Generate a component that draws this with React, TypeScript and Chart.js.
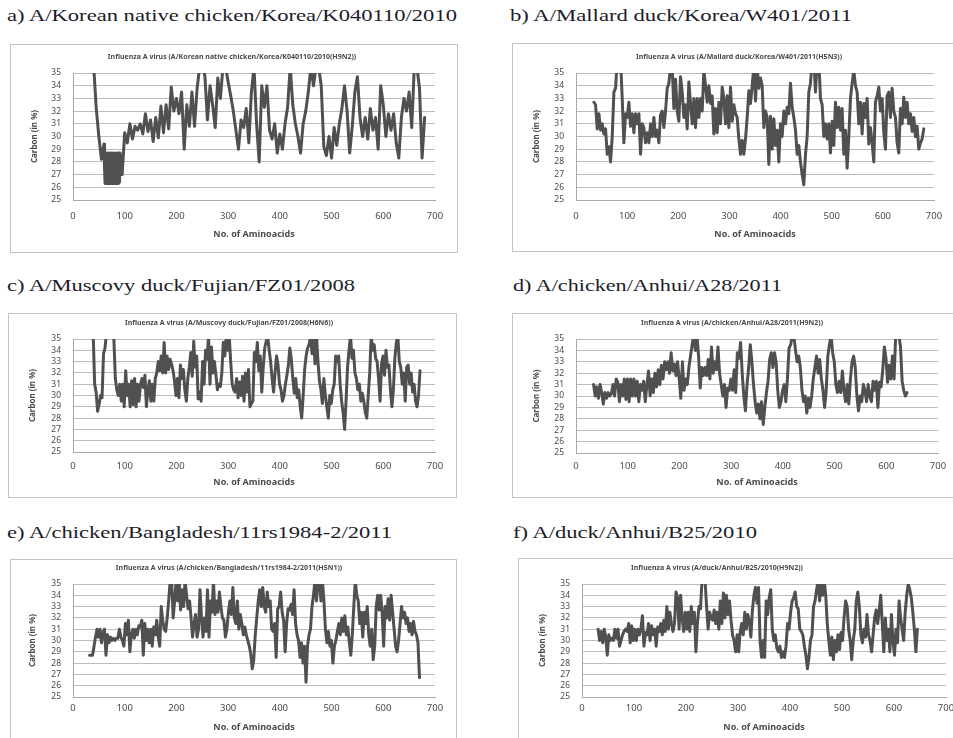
import React, { useEffect, useRef } from "react";
import { Chart, registerables } from "chart.js";
Chart.register(...registerables);

// ---------- tick labels ----------
const xTicks = [0, 100, 200, 300, 400, 500, 600, 700];
const yTicks = [25, 26, 27, 28, 29, 30, 31, 32, 33, 34, 35];
const xAxisTitle = "No. of Aminoacids";
const yAxisTitle = "Carbon (in %)";

// ---------- panel a ----------
const headA = "a) A/Korean native chicken/Korea/K040110/2010";
const titleA = "Influenza A virus (A/Korean native chicken/Korea/K040110/2010(H9N2))";
const rangeA1 = [40, 60];
const valuesA1 = [35.5, 32.2, 30, 28.2, 29.4];
// dense low band (positions 61-91)
const rangeA2 = [61, 91];
const valuesA2 = [
  27.5, 26.3, 28.6, 26.3, 28.7, 26.3, 28.6, 26.3, 28.7, 26.3, 28.6,
  26.3, 28.7, 26.3, 28.6, 26.3, 28.7, 26.3, 28.6, 26.3, 28.7,
  26.3, 28.6, 26.3, 28.7, 26.3, 28.6, 26.3, 28.7, 26.4, 28.7,
];
const rangeA3 = [95, 680];
const valuesA3 = [
  27,
  30.3, 29.5, 31, 29.8, 30.8, 30.5, 31, 30.2, 31.8, 30.4,
  31.3, 29.6, 31.5, 29.9, 32.4, 30.3, 32.5, 30.6, 33.9, 32,
  33, 31.8, 33.5, 29, 32.5, 30.8, 33.5, 30.8, 33.8, 35.5,
  35.5, 34.8, 31.3, 34, 32.5, 30.7, 34.6, 33, 35.5, 35.5,
  34.3, 33.2, 32, 30.5, 29, 31.3, 30.7, 32.2, 29.5, 33.5,
  35.5, 31, 28, 34, 32.3, 34, 30.5, 29.8, 31, 28.7,
  30.2, 29, 31, 32.3, 35.5, 32.5, 31, 30, 28.7, 31,
  32, 33.5, 35.5, 34, 35.5, 35.5, 34, 29.2, 28.5, 30,
  28.3, 30.7, 29.3, 31, 32.2, 34, 32, 28.7, 30.8, 33.5,
  34.7, 31.5, 30, 31.5, 29.8, 32.2, 30.5, 31.5, 29, 34,
  32.5, 30, 31.8, 30.5, 31.8, 29.5, 28.3, 31.5, 33, 32,
  33.5, 30.7, 35.5, 35.5, 33.8, 28.3, 31.5,
];

// ---------- panel b ----------
const headB = "b) A/Mallard duck/Korea/W401/2011";
const titleB = "Influenza A virus (A/Mallard duck/Korea/W401/2011(H5N3))";
const rangeB = [35, 680];
const valuesB = [
  32.7, 32.5, 30.6, 31.8, 30.5, 31, 30.2, 30.6, 28.6, 29.2, 28, 30, 33.5, 33.8,
  36, 36, 36, 33, 29.5, 31.8, 31.5, 32.7, 30.8, 31.8, 30.3, 31.8, 31, 31.8,
  28.6, 31, 30.7, 29.5, 30.3, 29.5, 31, 30, 31.5, 30, 30.5, 29.5, 31.7, 32,
  30.7, 32, 33.8, 34.2, 35.5, 35.5, 32.2, 34.5, 32, 31.2, 34.7, 33.5, 31.5, 32.5,
  30.6, 34.3, 32.6, 31, 33, 30.7, 33, 31.5, 33, 32, 35.2, 34, 32.7, 34,
  32.6, 33.2, 30.2, 32.2, 30.3, 32.7, 31, 33.9, 33, 31, 33.2, 30.7, 33.9, 31.2,
  32.5, 31.8, 31.5, 29.8, 28.6, 29.7, 28.6, 29.8, 31.5, 33.6, 32.6, 34, 35.5, 32.8,
  35.5, 33.8, 34.6, 34, 30.7, 32, 31.5, 27.8, 31.6, 29, 31.4, 29.3, 30.5, 28,
  31, 30, 32, 31, 32.3, 31.8, 34.2, 32.3, 31.5, 30.5, 28.6, 29.3, 28, 27,
  26.2, 28.6, 30, 33.5, 34.2, 36, 36, 33.5, 36, 36, 33, 32.5, 30, 31,
  29.8, 31, 28.7, 31.2, 29.3, 32.7, 30.7, 32.3, 30.5, 32.2, 28.6, 30.5, 27.5, 30,
  33, 34.2, 35.2, 34, 33.5, 31, 32.7, 30.2, 32.6, 31.5, 33, 29.4, 30.7, 29.5,
  28, 32.7, 33.2, 33.9, 32, 33, 30.3, 29, 33.2, 33.5, 31.5, 33.8, 32, 31.5,
  29.5, 28.7, 32.2, 31, 33.1, 31.5, 32.7, 31, 31.8, 30.4, 31.5, 30, 30.8, 29,
  29.5, 29.8, 30.6,
];

// ---------- panel c ----------
const headC = "c) A/Muscovy duck/Fujian/FZ01/2008";
const titleC = "Influenza A virus (A/Muscovy duck/Fujian/FZ01/2008(H6N6))";
const rangeC = [39, 671];
const valuesC = [
  35.5, 31, 30.3, 28.6, 29.2, 30, 29.8, 33.7, 34.2, 35.5, 36, 36, 36, 36,
  35, 31.5, 30.5, 30, 31, 29.5, 31, 29, 32.2, 30, 31, 29, 31.3, 29.2,
  31.5, 29, 31, 29.5, 31, 31.5, 30.7, 31.8, 29, 30.5, 31.3, 29.5, 31, 29.5,
  31.5, 32, 33, 32.2, 33.5, 32, 34.7, 32, 33.5, 32.3, 33.2, 32.8, 32.2, 31.3,
  30, 31.5, 29.8, 32.7, 31.5, 32.3, 30.5, 29.5, 31.5, 32.5, 33.8, 31.7, 34.8, 32.5,
  33.5, 29.7, 30.3, 29.5, 33, 31, 34, 33.2, 35.3, 31, 34.3, 32, 33, 31.8,
  30.5, 31, 30.8, 32, 34.7, 33.5, 35.3, 34, 35.3, 33, 31, 30.5, 30.3, 31.5,
  29.8, 31.2, 30, 31.7, 29.5, 32, 30.3, 32.3, 29, 29.3, 29.5, 33.8, 33, 34.7,
  32.2, 33.5, 30.3, 32.5, 34.2, 34.8, 35.3, 34, 33, 31.5, 30.3, 32, 33.5, 32.7,
  31, 30.5, 29.5, 30, 31, 31.8, 32.7, 34.2, 33.2, 31.5, 30.2, 31.5, 29.8, 30.5,
  29, 28, 30, 32.3, 33.5, 34.2, 34.5, 35.3, 33.7, 35.3, 32.8, 35.3, 33, 31.3,
  30.5, 29.3, 31.5, 30, 29, 28, 30, 29.3, 30.5, 31, 33.5, 33, 33.5, 31,
  29.5, 28.5, 27, 29.5, 32.5, 34, 35.3, 33.3, 34, 32, 31.5, 30.5, 31, 29.5,
  30.2, 29.5, 28.5, 28, 30, 32, 35.3, 34, 34.5, 33.3, 33, 31.5, 29.5, 32.8,
  33.5, 31.8, 34, 32.5, 32.7, 30.5, 29, 30.5, 33.3, 34.7, 35.3, 33, 32.5, 31,
  32, 29.5, 32.5, 32.7, 31, 32, 30.3, 31, 29.5, 29, 30, 32.2,
];

// ---------- panel d ----------
const headD = "d) A/chicken/Anhui/A28/2011";
const titleD = "Influenza A virus (A/chicken/Anhui/A28/2011(H9N2))";
const rangeD = [34, 640];
const valuesD = [
  31, 30, 30.8, 29.8, 31, 30.3, 29.3, 30.3, 29.8, 30.3, 30, 30.2, 31, 30,
  31.5, 31.2, 29.5, 31, 30, 31.5, 29.7, 31.5, 29.5, 31.5, 30, 31.5, 30, 31.3,
  29.5, 31, 30.5, 31.3, 29.5, 31, 32.2, 30, 31.5, 30.3, 32, 30.8, 32.3, 31,
  32.7, 31.5, 33, 32.3, 33, 32, 33.8, 32.2, 32.8, 31.8, 33, 31.5, 29.8, 33,
  30.5, 31.5, 31, 32.5, 33.5, 34.5, 35.3, 34, 35.3, 33.5, 30.7, 32.5, 31.8, 32.5,
  31.8, 33.2, 31.5, 34.3, 32, 33, 32.3, 34.3, 32, 31, 30, 31, 29, 30.7,
  30.5, 31.5, 30.5, 32.3, 30.3, 33.8, 33.3, 34.7, 32, 30, 28.7, 31, 32.5, 34.5,
  33, 31, 29.5, 28.5, 29.3, 28, 29.5, 27.5, 29, 30.3, 31.3, 33.2, 33.8, 32.5,
  33.8, 33, 30.5, 29, 29.5, 30.5, 31, 29.5, 31.5, 34.2, 34.5, 35.3, 35.3, 34,
  33, 33.5, 32.5, 30.5, 29.5, 30, 28.5, 29.8, 29, 30, 31.5, 32.5, 33.5, 32,
  33.2, 31.5, 30.5, 29, 30.5, 33.5, 34.5, 35.3, 33.8, 33, 31, 30.3, 31.3, 30.3,
  32.2, 30.5, 29.5, 31, 29.3, 31.5, 33, 33.5, 32.5, 30, 28.7, 30, 29.5, 31,
  30.5, 29.5, 31, 30, 29.5, 31.3, 30.5, 31.3, 29, 31.2, 30.8, 32.3, 34.3, 33.3,
  31.2, 32.7, 31.5, 33.5, 31.5, 35.3, 36, 35.3, 34.3, 31.3, 30.5, 30, 30.3,
];

// ---------- panel e ----------
const headE = "e) A/chicken/Bangladesh/11rs1984-2/2011";
const titleE = "Influenza A virus (A/chicken/Bangladesh/11rs1984-2/2011(H5N1))";
const rangeE = [32, 670];
const valuesE = [
  28.7, 28.7, 28.7, 29.5, 30.3, 31, 30.3, 31, 29.8, 30.7, 31, 28.7, 30.5, 29.8,
  30.3, 30, 30.2, 30, 30.2, 30.2, 31, 30.3, 30, 29.5, 31.5, 30.5, 31.8, 29,
  30.5, 31, 30.2, 31, 30.5, 31.3, 31.2, 31.8, 28.7, 31.5, 30, 31, 29.8, 31,
  29.5, 31.2, 30.5, 31.8, 30.3, 29.5, 33, 31.8, 31, 30.8, 32, 33.5, 35.3, 35.3,
  32, 33.5, 35.3, 33.5, 35.3, 32.7, 34.5, 33, 35.3, 34, 32.8, 33.5, 32, 30.3,
  31.5, 32.3, 30.3, 31, 34.5, 32, 30.3, 32, 30.8, 34.5, 30.3, 33.5, 32.5, 35.3,
  32.3, 33.5, 32.5, 34.3, 33, 32, 31.8, 30.3, 31, 32.5, 33.5, 32.3, 34.7, 32,
  31.5, 33.5, 31, 32.3, 31.5, 30.5, 31.2, 30.5, 30, 29.5, 28.8, 27.5, 28.3, 30.5,
  32, 33.5, 34.5, 33, 34.7, 33, 32.5, 34.3, 33, 33.5, 31, 30.8, 31.5, 28.5,
  32.8, 33, 34.3, 32.5, 31.8, 29, 31.5, 32.8, 32.7, 33.2, 32.3, 34.5, 31.5, 30.5,
  30, 28.5, 29.8, 28, 29.5, 26.3, 29.5, 30.5, 31, 33, 34, 35.3, 33.5, 35.3,
  35.3, 33.5, 35.3, 33.5, 31, 29.8, 30.8, 29.5, 30, 28, 29.5, 30, 30.8, 31.5,
  30.5, 32, 30.8, 32.2, 30.5, 31.2, 29.8, 28.7, 30.5, 33, 35.3, 34, 33.5, 31.5,
  32.5, 30.3, 32.5, 31.5, 33, 30.5, 29.5, 31, 28.3, 29.5, 33, 34, 32.7, 34,
  32.5, 29.5, 33, 32, 33.7, 31.8, 34, 32.5, 31, 29.5, 29, 30, 31.5, 33,
  32, 32.5, 31.5, 32, 30.8, 31.5, 30.5, 31.7, 30.8, 30.5, 29.8, 26.7,
];

// ---------- panel f ----------
const headF = "f) A/duck/Anhui/B25/2010";
const titleF = "Influenza A virus (A/duck/Anhui/B25/2010(H9N2))";
const rangeF = [31, 645];
const valuesF = [
  31, 30, 30.8, 29.8, 31, 30.3, 28.7, 30.5, 30, 30.2, 30, 31, 30.2, 31,
  29.5, 30, 30.5, 30.8, 31, 30.8, 31.5, 29.8, 31.3, 30, 31, 30, 31, 30.5,
  31, 32.2, 29.5, 30.7, 30.5, 31.5, 30, 31.3, 30.5, 31, 29.5, 31.2, 30.8, 31.5,
  30.5, 31.8, 30.8, 33, 31, 32.5, 31.5, 30.8, 31.5, 34.3, 33.8, 31, 34, 32,
  30.8, 32.5, 31, 32.5, 30.8, 33, 31.5, 32.5, 29, 31.5, 33, 32.8, 35.3, 36,
  35.3, 33, 31, 32.5, 32, 31.8, 32.7, 31.5, 32.5, 31, 33.5, 31.5, 34.2, 32,
  34, 32.3, 33.5, 31.8, 30.5, 30, 29, 30.5, 29, 30.8, 31.5, 30.5, 32.5, 31,
  32.3, 31.7, 30.3, 32.7, 34, 34.7, 33.3, 34.7, 30, 28.5, 30, 28.5, 33.5, 32.3,
  33.8, 34.5, 31, 30, 30.5, 29.3, 29, 29.5, 28.5, 29, 28.5, 29.5, 31.5, 31,
  32.5, 33.5, 33.8, 34.3, 33, 32.8, 31, 30.8, 30.5, 29.5, 28.7, 27.5, 28.5, 30,
  30.5, 33, 33.5, 34.5, 35.3, 33.5, 35.3, 34, 35.3, 34, 31.5, 30, 28.7, 30.3,
  28.3, 30, 29, 30.5, 29.2, 30.7, 30, 32, 33.5, 33, 31, 30, 28.3, 30,
  31, 33.5, 34.3, 33, 30.5, 29.8, 31, 30.3, 32.3, 30.5, 30, 29, 30.5, 32,
  32.7, 31.5, 32.7, 34, 31.5, 29, 32, 30, 31, 29, 32.3, 30, 28.7, 31,
  29.8, 33.5, 32, 31, 30, 32.5, 34, 35, 34.5, 33.8, 32.5, 31, 29, 31,
];

// ---------- layout (page pixels) ----------
type Geo = {
  boxL: number; boxT: number; boxR: number; boxB: number;
  plotL: number; plotR: number; plotT: number; plotB: number;
  titleX: number; titleY: number; yTitleX: number; tickY: number; xTitleY: number;
  headX1: number; headX2: number; headBase: number;
};

const geoA: Geo = { boxL: 10, boxT: 44, boxR: 458, boxB: 253, plotL: 73, plotR: 435, plotT: 73, plotB: 200, titleX: 232, titleY: 57, yTitleX: 35, tickY: 216, xTitleY: 234, headX1: 7, headX2: 457, headBase: 21 };
const geoB: Geo = { boxL: 512, boxT: 43, boxR: 966, boxB: 252, plotL: 576, plotR: 934, plotT: 73, plotB: 200, titleX: 739, titleY: 57, yTitleX: 537, tickY: 216, xTitleY: 234, headX1: 510, headX2: 852, headBase: 21 };
const geoC: Geo = { boxL: 8, boxT: 313, boxR: 457, boxB: 498, plotL: 73, plotR: 435, plotT: 339, plotB: 452, titleX: 229, titleY: 323, yTitleX: 33, tickY: 466, xTitleY: 482, headX1: 7, headX2: 355, headBase: 291 };
const geoD: Geo = { boxL: 512, boxT: 313, boxR: 966, boxB: 498, plotL: 576, plotR: 938, plotT: 339, plotB: 453, titleX: 732, titleY: 323, yTitleX: 537, tickY: 466, xTitleY: 482, headX1: 513, headX2: 782, headBase: 291 };
const geoE: Geo = { boxL: 10, boxT: 559, boxR: 457, boxB: 760, plotL: 73, plotR: 435, plotT: 584, plotB: 697, titleX: 229, titleY: 568, yTitleX: 33, tickY: 708, xTitleY: 727, headX1: 7, headX2: 392, headBase: 538 };
const geoF: Geo = { boxL: 518, boxT: 558, boxR: 972, boxB: 760, plotL: 582, plotR: 946, plotT: 584, plotB: 697, titleX: 717, titleY: 568, yTitleX: 543, tickY: 708, xTitleY: 727, headX1: 513, headX2: 757, headBase: 538 };

const LINE_COLOR = "#505050";
const GRID_COLOR = "#bcbcbc";
const AXIS_COLOR = "#a8a8a8";
const TEXT_COLOR = "#4a4a4a";
const SANS = "'Noto Sans', 'DejaVu Sans', sans-serif";

const titlePlugin = {
  id: "panelTitle",
  afterDraw(chart: any, _args: any, opts: any) {
    const ctx = chart.ctx;
    ctx.save();
    ctx.font = `bold 7px ${SANS}`;
    ctx.fillStyle = TEXT_COLOR;
    ctx.textAlign = "center";
    ctx.textBaseline = "middle";
    ctx.fillText(opts.text, opts.x, opts.y);
    ctx.restore();
  },
};

type Segment = { range: number[]; values: number[] };

function Panel({ geo, segments, title }: { geo: Geo; segments: Segment[]; title: string }) {
  const ref = useRef<HTMLCanvasElement>(null);
  const cl = geo.boxL + 1;
  const ct = geo.boxT + 1;
  const cw = geo.boxR - geo.boxL - 2;
  const ch = geo.boxB - geo.boxT - 2;

  useEffect(() => {
    if (!ref.current) return;
    const points: { x: number; y: number }[] = [];
    segments.forEach((seg) => {
      const n = seg.values.length;
      const step = (seg.range[1] - seg.range[0]) / (n - 1);
      seg.values.forEach((v, i) => points.push({ x: seg.range[0] + i * step, y: v }));
    });

    const padT = geo.plotT - ct;
    const yW = geo.plotL - cl;
    const padR = cl + cw - geo.plotR;
    const xH = ct + ch - geo.plotB;
    const tickFont = 9.5;
    const xTitleFont = 9;
    const yTitleFont = 8;

    const chart = new Chart(ref.current, {
      type: "line",
      data: {
        datasets: [
          {
            data: points,
            borderColor: LINE_COLOR,
            borderWidth: 3,
            borderJoinStyle: "round",
            borderCapStyle: "round",
            pointRadius: 0,
            tension: 0,
            fill: false,
          },
        ],
      },
      options: {
        responsive: false,
        maintainAspectRatio: false,
        animation: false,
        events: [],
        parsing: false as any,
        layout: { padding: { left: 0, top: padT, right: padR, bottom: 0 } },
        plugins: {
          legend: { display: false },
          tooltip: { enabled: false },
          title: { display: false },
          panelTitle: { text: title, x: geo.titleX - cl, y: geo.titleY - ct },
        } as any,
        scales: {
          x: {
            type: "linear",
            min: 0,
            max: 700,
            afterBuildTicks: (s: any) => {
              s.ticks = xTicks.map((v) => ({ value: v }));
            },
            afterFit: (s: any) => {
              s.height = xH;
            },
            ticks: {
              padding: geo.tickY - geo.plotB - (tickFont * 1.2) / 2,
              color: TEXT_COLOR,
              font: { family: SANS, size: tickFont },
              maxRotation: 0,
              autoSkip: false,
            },
            grid: { display: false, drawTicks: false },
            border: { display: true, color: AXIS_COLOR, width: 1 },
            title: {
              display: true,
              text: xAxisTitle,
              color: TEXT_COLOR,
              font: { family: SANS, size: xTitleFont, weight: "bold" },
              padding: { top: 0, bottom: ct + ch - geo.xTitleY - (xTitleFont * 1.2) / 2 },
            },
          },
          y: {
            type: "linear",
            min: 25,
            max: 35,
            afterBuildTicks: (s: any) => {
              s.ticks = yTicks.map((v) => ({ value: v }));
            },
            afterFit: (s: any) => {
              s.width = yW;
            },
            ticks: {
              padding: 12,
              color: TEXT_COLOR,
              font: { family: SANS, size: 8.5 },
              autoSkip: false,
            },
            grid: { color: GRID_COLOR, lineWidth: 1, drawTicks: false },
            border: { display: true, color: AXIS_COLOR, width: 1 },
            title: {
              display: true,
              text: yAxisTitle,
              color: TEXT_COLOR,
              font: { family: SANS, size: yTitleFont, weight: "bold" },
              padding: { top: geo.yTitleX - cl - (yTitleFont * 1.2) / 2, bottom: 0 },
            },
          },
        },
      },
      plugins: [titlePlugin],
    } as any);
    return () => chart.destroy();
  }, []);

  return (
    <div
      style={{
        position: "absolute",
        left: geo.boxL,
        top: geo.boxT,
        width: geo.boxR - geo.boxL - 2,
        height: geo.boxB - geo.boxT - 2,
        border: "1px solid #c4c4c4",
        background: "#ffffff",
      }}
    >
      <canvas ref={ref} width={cw} height={ch} style={{ display: "block", width: cw, height: ch }} />
    </div>
  );
}

const panels = [
  {
    geo: geoA,
    segments: [
      { range: rangeA1, values: valuesA1 },
      { range: rangeA2, values: valuesA2 },
      { range: rangeA3, values: valuesA3 },
    ],
    title: titleA,
    head: headA,
  },
  { geo: geoB, segments: [{ range: rangeB, values: valuesB }], title: titleB, head: headB },
  { geo: geoC, segments: [{ range: rangeC, values: valuesC }], title: titleC, head: headC },
  { geo: geoD, segments: [{ range: rangeD, values: valuesD }], title: titleD, head: headD },
  { geo: geoE, segments: [{ range: rangeE, values: valuesE }], title: titleE, head: headE },
  { geo: geoF, segments: [{ range: rangeF, values: valuesF }], title: titleF, head: headF },
];

export default function App() {
  return (
    <div
      style={{
        position: "absolute",
        left: 0,
        top: 0,
        width: 953,
        height: 738,
        overflow: "hidden",
        background: "#ffffff",
      }}
    >
      <svg width={953} height={738} style={{ position: "absolute", left: 0, top: 0 }}>
        {panels.map((p, i) => (
          <text
            key={i}
            x={p.geo.headX1}
            y={p.geo.headBase}
            textLength={p.geo.headX2 - p.geo.headX1}
            lengthAdjust="spacingAndGlyphs"
            fontFamily="'Liberation Serif', 'DejaVu Serif', serif"
            fontSize={17}
            fill="#1c1c2a"
          >
            {p.head}
          </text>
        ))}
      </svg>
      {panels.map((p, i) => (
        <Panel key={i} geo={p.geo} segments={p.segments} title={p.title} />
      ))}
    </div>
  );
}
